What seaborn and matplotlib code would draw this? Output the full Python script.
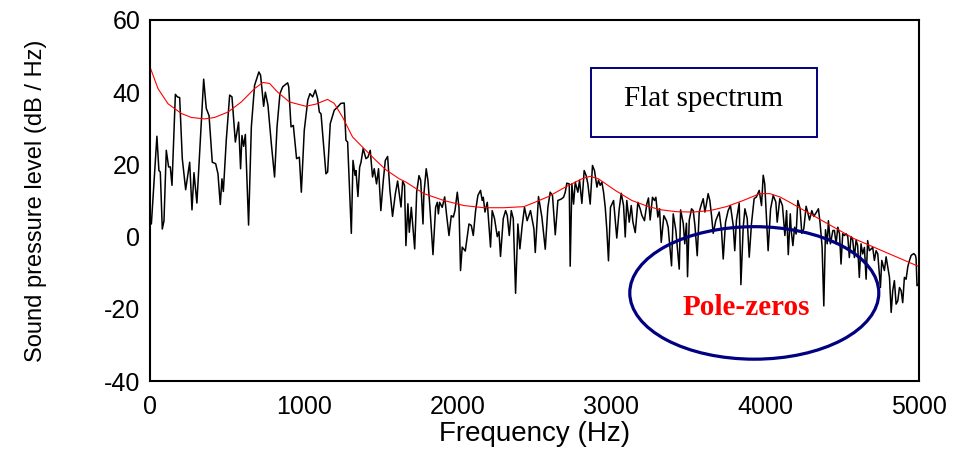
import matplotlib
matplotlib.use("Agg")
import matplotlib.pyplot as plt
from matplotlib import font_manager
from matplotlib.patches import Ellipse, Rectangle
import seaborn as sns

freq_hz = [0, 9, 45, 58, 67, 80, 91, 106, 121, 132, 143, 165, 178, 193, 210, 232, 258, 273, 286, 305,
           349, 366, 384, 405, 427, 442, 457, 468, 477, 496, 518, 533, 555, 576, 589, 598, 609, 620, 641, 659,
           680, 708, 719, 739, 750, 767, 789, 810, 826, 845, 863, 895, 902, 917, 932, 953, 971, 984, 1003, 1026,
           1040, 1058, 1075, 1090, 1101, 1112, 1126, 1144, 1155, 1172, 1198, 1220, 1241, 1263, 1274, 1285, 1309, 1320, 1333, 1339,
           1352, 1363, 1372, 1386, 1404, 1417, 1432, 1447, 1458, 1473, 1486, 1501, 1517, 1530, 1545, 1560, 1577, 1595, 1610, 1621,
           1632, 1643, 1655, 1664, 1677, 1686, 1699, 1721, 1734, 1749, 1760, 1775, 1781, 1796, 1807, 1820, 1840, 1857, 1868, 1875,
           1883, 1900, 1916, 1929, 1944, 1959, 1972, 1983, 1998, 2009, 2019, 2030, 2050, 2074, 2089, 2102, 2117, 2132, 2149, 2160,
           2167, 2178, 2193, 2214, 2225, 2240, 2258, 2269, 2279, 2297, 2312, 2323, 2336, 2349, 2362, 2377, 2392, 2405, 2420, 2435,
           2452, 2474, 2496, 2505, 2526, 2548, 2570, 2587, 2602, 2617, 2635, 2652, 2674, 2689, 2700, 2710, 2726, 2732, 2743, 2754,
           2765, 2782, 2793, 2808, 2823, 2836, 2847, 2862, 2877, 2890, 2906, 2916, 2927, 2938, 2949, 2960, 2970, 2981, 2994, 3014,
           3025, 3035, 3051, 3064, 3079, 3090, 3100, 3116, 3129, 3140, 3155, 3172, 3187, 3198, 3215, 3230, 3241, 3252, 3267, 3280,
           3289, 3302, 3313, 3324, 3341, 3358, 3369, 3391, 3402, 3419, 3441, 3450, 3467, 3477, 3488, 3495, 3506, 3521, 3532, 3543,
           3558, 3571, 3586, 3597, 3608, 3618, 3629, 3640, 3651, 3662, 3679, 3701, 3716, 3727, 3742, 3759, 3774, 3792, 3802, 3813,
           3831, 3842, 3857, 3868, 3883, 3896, 3911, 3928, 3943, 3961, 3976, 3987, 3997, 4008, 4019, 4035, 4052, 4069, 4078, 4095,
           4112, 4128, 4139, 4150, 4163, 4169, 4180, 4191, 4201, 4212, 4227, 4238, 4251, 4266, 4277, 4288, 4303, 4316, 4331, 4346,
           4357, 4370, 4381, 4392, 4403, 4411, 4424, 4440, 4450, 4461, 4472, 4483, 4493, 4504, 4515, 4526, 4537, 4547, 4558, 4569,
           4580, 4591, 4601, 4612, 4623, 4634, 4645, 4656, 4666, 4677, 4699, 4710, 4721, 4732, 4749, 4758, 4775, 4786, 4808, 4819,
           4829, 4840, 4851, 4862, 4873, 4884, 4894, 4905, 4916, 4927, 4938, 4949, 4966, 4977, 4981, 4987, 5000]
level_db = [5.4, 3.5, 27.8, 18.3, 17.9, 2.1, 4.4, 23.9, 19.3, 19.3, 14.2, 39.4, 38.7, 38.5, 21.6, 13.0, 20.6, 7.4, 17.7, 9.3,
            43.6, 35.5, 33.5, 20.6, 20.2, 17.4, 8.9, 16.0, 12.5, 26.7, 39.2, 38.7, 26.2, 31.7, 18.8, 28.0, 25.0, 28.3, 3.2, 30.4,
            41.9, 45.6, 44.7, 36.1, 40.0, 36.4, 25.7, 16.5, 30.4, 39.6, 41.5, 42.6, 41.5, 30.4, 30.8, 21.6, 22.0, 12.3, 29.4, 37.8,
            39.6, 38.7, 40.6, 38.2, 34.5, 34.0, 26.7, 17.4, 17.9, 31.3, 35.0, 35.9, 36.9, 37.0, 26.7, 26.2, 0.9, 21.1, 17.0, 18.3,
            11.1, 19.2, 20.6, 24.4, 21.6, 22.0, 23.9, 16.5, 18.8, 14.6, 18.8, 7.2, 15.6, 21.1, 22.2, 12.8, 5.6, 11.8, 15.4, 11.8,
            8.2, 15.4, 14.2, -2.5, 9.1, 1.2, 8.1, -3.4, 12.3, 16.9, 15.6, 3.5, 11.9, 18.8, 15.6, 8.1, -5.0, 8.1, 9.5, 6.3,
            9.5, 8.1, 11.0, 5.8, 0.3, 5.8, 5.4, 7.2, 12.3, 8.1, -9.4, -2.9, -4.0, 3.5, 3.1, 0.3, 7.2, 11.4, 12.8, 10.0,
            10.9, 6.8, 9.5, -2.9, 7.2, 5.0, 0.0, 1.4, -5.5, 5.0, 7.2, 5.8, 0.3, 7.2, 5.0, -15.7, 3.5, -3.4, 3.1, 8.1,
            4.4, 7.2, 2.2, -4.4, 11.1, 5.4, -3.5, 8.1, 12.3, 11.4, 0.5, 10.0, 10.4, 10.9, 12.3, 14.8, 14.6, -8.2, 14.6, 9.0,
            15.1, 12.3, 15.6, 9.2, 18.3, 16.9, 14.6, 9.0, 19.7, 18.3, 13.7, 15.6, 14.2, 15.1, 12.3, 8.1, 2.1, -6.7, 8.1, 10.0,
            4.4, -0.4, 7.7, 12.0, 8.6, -0.1, 10.0, 4.0, 8.6, 4.0, 1.1, 9.5, 7.7, 5.9, 4.4, 9.0, 10.7, 4.6, 10.9, 10.0,
            10.9, 5.4, 7.7, -1.6, 5.8, 4.4, 2.6, -8.1, 6.3, 1.7, -9.0, 7.4, 3.7, -2.0, 3.7, -11.1, 4.5, 7.7, 7.2, 3.1,
            -5.3, 6.8, 9.1, 10.5, 6.8, 9.1, 11.9, 10.0, 5.8, 0.9, 4.5, 6.8, 1.7, -6.2, 4.0, 7.2, 8.6, 3.1, -3.9, 4.5,
            9.3, -13.3, 2.6, 7.7, 5.0, -5.7, 3.7, 10.5, 11.0, 12.8, 8.6, 17.0, 14.6, 5.4, -3.9, 7.7, 11.4, 9.6, 4.0, 10.5,
            8.6, 0.3, 7.2, -5.0, 6.3, 1.7, -2.5, 2.6, 0.7, 10.0, 7.7, 0.9, 2.2, 8.4, 6.6, 4.6, 7.2, 5.6, 6.6, 7.7,
            3.7, -2.9, -19.2, 1.9, -2.0, 4.4, -2.0, 1.7, 1.7, -2.0, 2.6, 0.8, -7.6, 0.8, 0.3, 0.8, 0.0, -5.8, 0.0, -0.9,
            -5.8, -0.9, -2.5, -11.3, -2.0, -4.8, -3.0, -11.8, -1.1, -3.9, -3.0, -6.6, -3.9, -4.8, -14.1, -6.6, -9.4, -5.6, -11.3, -21.0,
            -15.0, -12.2, -18.7, -17.8, -14.1, -15.0, -18.3, -11.3, -11.8, -8.4, -6.6, -5.2, -4.7, -5.2, -6.1, -13.6, -13.0]

# smooth LPC envelope (red)
env_hz = [0, 52, 117, 204, 269, 355, 420, 507, 594, 680, 735, 778, 828, 906, 1014, 1079, 1154, 1198, 1252, 1317,
          1391, 1469, 1534, 1621, 1664, 1781, 1911, 2041, 2171, 2301, 2431, 2496, 2591, 2700, 2808, 2862, 2916, 3025, 3133, 3241,
          3328, 3423, 3532, 3640, 3748, 3857, 3965, 4030, 4095, 4160, 4363, 4580, 4797, 5000]
env_db = [47.0, 41.0, 36.8, 34.1, 33.0, 32.6, 33.0, 34.5, 37.3, 41.0, 42.7, 42.4, 40.1, 37.3, 36.1, 36.7, 38.0, 36.9, 33.1, 27.6,
          24.4, 21.1, 18.5, 16.0, 15.1, 11.9, 10.0, 8.6, 8.0, 8.0, 8.3, 9.4, 11.1, 13.7, 16.0, 16.7, 16.0, 12.8, 10.0, 8.3,
          7.4, 6.9, 6.8, 7.2, 8.3, 10.0, 11.9, 11.9, 11.0, 9.5, 4.6, -0.6, -4.6, -8.3]

sns.set_style("white")
plt.rcParams["font.family"] = ["Liberation Sans", "DejaVu Sans"]
plt.rcParams["axes.unicode_minus"] = False
plt.rcParams["text.color"] = "black"
plt.rcParams["axes.labelcolor"] = "black"
plt.rcParams["xtick.color"] = "black"
plt.rcParams["ytick.color"] = "black"

names = {f.name for f in font_manager.fontManager.ttflist}
if "Liberation Sans Narrow" in names:
    ylab_family, ylab_size = ["Liberation Sans Narrow", "Liberation Sans"], 20.5
else:
    ylab_family, ylab_size = ["Liberation Sans", "DejaVu Sans"], 17

fig = plt.figure(figsize=(9.59, 4.49), dpi=100)
ax = fig.add_axes([0.1564, 0.1514, 0.8019, 0.8041])

sns.lineplot(x=freq_hz, y=level_db, color="black", lw=1.1, ax=ax)
sns.lineplot(x=env_hz, y=env_db, color="red", lw=0.8, ax=ax)

ax.set_xlim(0, 5000)
ax.set_ylim(-40, 60)
ax.set_xticks([0, 1000, 2000, 3000, 4000, 5000])
ax.set_yticks([-40, -20, 0, 20, 40, 60])

for s in ax.spines.values():
    s.set_linewidth(1.5)
    s.set_color("black")
ax.tick_params(axis="x", direction="in", length=5, width=1.2, pad=10, labelsize=18)
ax.tick_params(axis="y", direction="out", length=5, width=1.2, pad=2, labelsize=18)

ax.set_xlabel("Frequency (Hz)", fontsize=20)
ax.xaxis.set_label_coords(0.5, -0.11)
ax.set_ylabel("Sound pressure level (dB / Hz)", fontsize=ylab_size, family=ylab_family)
ax.yaxis.set_label_coords(-0.134, 0.5)

navy = "#000080"
ax.add_patch(Rectangle((2867, 27.5), 1469, 19.2, fill=False, ec=navy, lw=1.4, zorder=5))
ax.text(3601, 38.0, "Flat spectrum", fontsize=21, family=["Liberation Serif"],
        color="black", ha="center", va="center", zorder=6)

ax.add_patch(Ellipse((3929, -15.6), 1619, 36.7, fill=False, ec=navy, lw=2.3, zorder=5))
ax.text(3874, -19.7, "Pole-zeros", fontsize=21, family=["Liberation Serif"], fontweight="bold",
        color="red", ha="center", va="center", zorder=6)

fig.savefig("out.png", dpi=100)
